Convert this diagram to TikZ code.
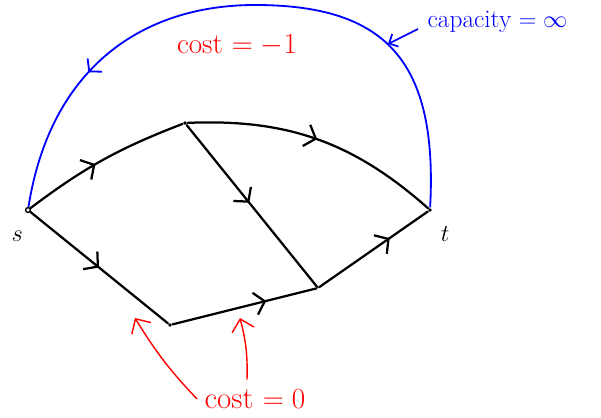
\documentclass[tikz,border=0pt]{standalone}
\usepackage{tikz}
\usetikzlibrary{arrows.meta, positioning, decorations.markings}

\begin{document}
\begin{tikzpicture}[
    x=0.025cm, y=-0.025cm,
    vertex/.style={draw, circle, line width=1pt, inner sep=1.2pt},
    flow/.style={line width=1.6pt, line cap=round, postaction={decorate},
        decoration={markings, mark=at position #1 with {\arrow[line width=1.6pt]{Straight Barb[length=7pt,width=16pt]}}}},
    flow/.default=0.5,
    ret/.style={blue, line width=1.3pt, postaction={decorate},
        decoration={markings, mark=at position 0.77 with {\arrow[line width=1.3pt]{Straight Barb[length=6pt,width=14pt]}}}},
    note/.style={red, line width=1pt, -{Straight Barb[length=8pt,width=16pt]}},
    lbl/.style={font=\LARGE}
]
    \useasboundingbox (0,0) rectangle (601,418);

    \node[vertex] (s) at (28,210) {};
    \node[vertex, draw=none, fill=black, inner sep=1pt] (a) at (185,123) {};
    \node[vertex, draw=none, fill=black, inner sep=1pt] (b) at (170,325) {};
    \node[vertex, draw=none, inner sep=0pt] (c) at (318,288) {};
    \node[vertex, draw=none, fill=black, inner sep=1pt] (t) at (430,210) {};

    \node[below left=0.35cm and -0.05cm of s, lbl] (s_lbl) {$s$};
    \node[below right=0.25cm and 0.1cm of t, lbl] (t_lbl) {$t$};

    % network edges
    \draw[flow=0.45] (s) to[bend left=8] (a);
    \draw[flow=0.5] (s) -- (b);
    \draw[flow=0.48] (a) -- (c);
    \draw[flow=0.65] (b) -- (c);
    \draw[flow=0.5] (a) to[bend left=22] (t);
    \draw[flow=0.65] (c) -- (t);

    % return edge t -> s
    \draw[ret] (t) .. controls (438,60) and (385,5) .. (255,5)
        .. controls (140,5) and (50,70) .. (s);

    \node[red, font=\huge] (cost_top) at (237,45) {cost $=-1$};
    \node[blue, font=\fontsize{18}{22}\selectfont, anchor=west, inner sep=1pt] (cap) at (426,22) {capacity $=\infty$};
    \coordinate (cap_tip) at (388,44);
    \draw[blue, line width=1.2pt, -{Straight Barb[length=5pt,width=10pt]}] (cap.west) ++(-8,7) -- (cap_tip);

    \node[red, font=\fontsize{22}{26}\selectfont, inner sep=1pt] (cost_bot) at (255,399) {cost $=0$};
    \coordinate (n1) at (135,318);
    \coordinate (n2) at (240,318);
    \draw[note] (cost_bot.west) ++(-6,0) to[bend left=6] (n1);
    \draw[note] (cost_bot.north west) ++(44,-8) to[bend right=8] (n2);
\end{tikzpicture}
\end{document}
